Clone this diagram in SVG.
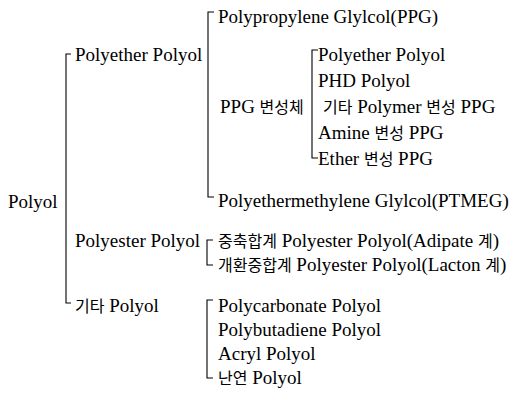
<svg xmlns="http://www.w3.org/2000/svg" width="521" height="395" viewBox="0 0 521 395">
<style>
text{font-family:"Liberation Serif","Noto Sans CJK KR",serif;font-size:19px;fill:#000}
.ko{font-family:"Noto Sans CJK KR",sans-serif;font-size:16px}
.br{fill:none;stroke:#000;stroke-width:1.1}
</style>
<rect width="521" height="395" fill="#fff"/>
<g id="connectors">
<path class="br" d="M71,54 H66 V303 H71"/>
<path class="br" d="M214,12 H208 V197 H214"/>
<path class="br" d="M318,50 H312 V158 H318"/>
<path class="br" d="M213,240 H207 V265 H213"/>
<path class="br" d="M213,300 H207 V378 H213"/>
</g>
<g id="n-polyol"><text x="8" y="208">Polyol</text></g>
<g id="n-polyether"><text x="75" y="61">Polyether Polyol</text></g>
<g id="n-polyester"><text x="75" y="247">Polyester Polyol</text></g>
<g id="n-other"><text x="75" y="312"><tspan class="ko">기타</tspan> Polyol</text></g>
<g id="n-ppg"><text x="218" y="23">Polypropylene Glylcol(PPG)</text></g>
<g id="n-ppgmod"><text x="220" y="113">PPG <tspan class="ko">변성체</tspan></text></g>
<g id="n-ptmeg"><text x="218" y="207">Polyethermethylene Glylcol(PTMEG)</text></g>
<g id="n-sub1"><text x="318" y="61">Polyether Polyol</text></g>
<g id="n-sub2"><text x="318" y="87">PHD Polyol</text></g>
<g id="n-sub3"><text x="323" y="113"><tspan class="ko">기타</tspan> Polymer <tspan class="ko">변성</tspan> PPG</text></g>
<g id="n-sub4"><text x="318" y="139">Amine <tspan class="ko">변성</tspan> PPG</text></g>
<g id="n-sub5"><text x="318" y="165">Ether <tspan class="ko">변성</tspan> PPG</text></g>
<g id="n-adipate"><text x="218" y="247"><tspan class="ko">중축합계</tspan> Polyester Polyol(Adipate <tspan class="ko">계</tspan>)</text></g>
<g id="n-lacton"><text x="218" y="271"><tspan class="ko">개환중합계</tspan> Polyester Polyol(Lacton <tspan class="ko">계</tspan>)</text></g>
<g id="n-pc"><text x="218" y="312">Polycarbonate Polyol</text></g>
<g id="n-pb"><text x="218" y="336">Polybutadiene Polyol</text></g>
<g id="n-acryl"><text x="218" y="360">Acryl Polyol</text></g>
<g id="n-fr"><text x="218" y="384"><tspan class="ko">난연</tspan> Polyol</text></g>
</svg>
